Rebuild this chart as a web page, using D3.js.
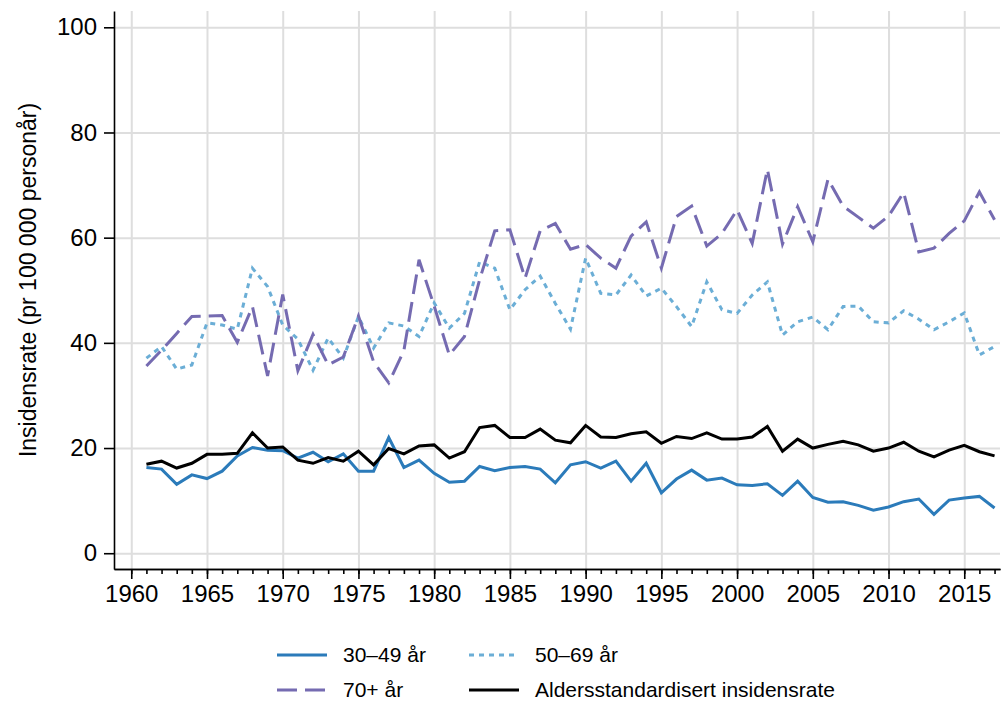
<!DOCTYPE html>
<html>
<head>
<meta charset="utf-8">
<script src="https://cdn.jsdelivr.net/npm/d3@7"></script>
<style>
  body { margin: 0; background: #fff; }
  svg { font-family: "Liberation Sans", Arial, sans-serif; }
  .grid line { stroke: #dedede; stroke-width: 2; }
  .grid path { display: none; }
  .axis path, .axis line { stroke: #000; stroke-width: 1.6; }
  .axis text { font-family: "Liberation Sans", Arial, sans-serif; font-size: 24px; fill: #000; }
</style>
</head>
<body>
<svg width="1002" height="701"></svg>
<script>
const years = d3.range(1961, 2018);

const rate3049 = [
  16.3, 16.0, 13.1, 14.9, 14.2, 15.6, 18.5, 20.1, 19.6, 19.5,
  18.1, 19.2, 17.4, 18.9, 15.6, 15.6, 22.0, 16.3, 17.7, 15.2,
  13.5, 13.7, 16.5, 15.7, 16.3, 16.5, 16.0, 13.4, 16.8, 17.4,
  16.2, 17.5, 13.7, 17.1, 11.5, 14.1, 15.8, 13.9, 14.3, 13.0,
  12.9, 13.2, 11.0, 13.7, 10.6, 9.7, 9.8, 9.1, 8.2, 8.8,
  9.8, 10.3, 7.4, 10.1, 10.5, 10.8, 8.6
];

const rate5069 = [
  37.1, 39.3, 35.0, 35.8, 43.8, 43.4, 42.6, 54.2, 50.7, 43.4,
  40.7, 34.8, 40.9, 37.1, 45.0, 39.0, 43.8, 43.2, 41.2, 47.6,
  42.8, 45.6, 55.4, 54.2, 46.3, 50.1, 52.7, 47.5, 42.6, 56.1,
  49.4, 49.1, 52.9, 48.9, 50.4, 46.9, 43.1, 51.6, 46.3, 45.6,
  49.1, 51.6, 41.5, 44.0, 44.9, 42.5, 46.9, 47.0, 44.0, 43.8,
  46.1, 44.5, 42.5, 44.0, 45.7, 37.7, 39.3
];

const rate70 = [
  35.6, 38.6, 41.8, 45.0, 45.1, 45.2, 40.1, 46.9, 33.7, 49.2,
  34.7, 41.6, 35.8, 37.3, 45.1, 36.4, 32.4, 38.5, 55.8, 47.0,
  37.7, 41.2, 52.0, 61.3, 61.5, 52.3, 61.3, 62.7, 57.8, 58.7,
  56.1, 54.2, 60.3, 63.0, 54.2, 64.0, 66.0, 58.4, 60.8, 65.3,
  58.9, 73.0, 58.8, 65.9, 59.2, 71.1, 66.0, 63.9, 61.8, 64.1,
  68.6, 57.3, 58.0, 60.8, 63.2, 68.7, 63.4
];

const ageStd = [
  16.9, 17.5, 16.2, 17.1, 18.8, 18.8, 19.0, 22.9, 20.0, 20.2,
  17.7, 17.1, 18.2, 17.5, 19.4, 16.8, 19.9, 18.9, 20.4, 20.6,
  18.1, 19.3, 23.9, 24.3, 22.0, 22.0, 23.6, 21.5, 21.0, 24.3,
  22.1, 22.0, 22.7, 23.1, 20.9, 22.2, 21.8, 22.9, 21.7, 21.7,
  22.1, 24.1, 19.4, 21.7, 20.0, 20.7, 21.3, 20.6, 19.4, 20.0,
  21.1, 19.4, 18.3, 19.6, 20.5, 19.3, 18.5
];

const yTicks = [0, 20, 40, 60, 80, 100];
const xTicks = d3.range(1960, 2016, 5);

const series = [
  { name: "30–49 år", values: rate3049, color: "#2b7bba", dash: null },
  { name: "50–69 år", values: rate5069, color: "#6baed6", dash: "5,5" },
  { name: "70+ år", values: rate70, color: "#756bb1", dash: "20,8" },
  { name: "Aldersstandardisert insidensrate", values: ageStd, color: "#000000", dash: null }
];

const pLeft = 114, pRight = 1000, pTop = 11, pBottom = 569;

const svg = d3.select("svg");

const x = d3.scaleLinear().domain([1958.86, 2017.36]).range([pLeft, pRight]);
const y = d3.scaleLinear().domain([-3, 103.1]).range([pBottom, pTop]);

// gridlines
svg.append("g")
  .attr("class", "grid")
  .attr("transform", `translate(0, ${pBottom})`)
  .call(d3.axisBottom(x).tickValues(xTicks).tickSize(-(pBottom - pTop)).tickFormat(""));

svg.append("g")
  .attr("class", "grid")
  .attr("transform", `translate(${pLeft}, 0)`)
  .call(d3.axisLeft(y).tickValues(yTicks).tickSize(-(pRight - pLeft)).tickFormat(""));

// lines
const line = vals => d3.line()
  .x((d, i) => x(years[i]))
  .y(d => y(d))(vals);

svg.append("g")
  .selectAll("path")
  .data(series)
  .enter()
  .append("path")
  .attr("d", s => line(s.values))
  .attr("fill", "none")
  .attr("stroke", s => s.color)
  .attr("stroke-width", 3)
  .attr("stroke-dasharray", s => s.dash);

// axes
svg.append("g")
  .attr("class", "axis")
  .attr("transform", `translate(${pLeft}, 0)`)
  .call(d3.axisLeft(y).tickValues(yTicks).tickSize(10).tickSizeOuter(0).tickPadding(7));

svg.append("g")
  .attr("class", "axis")
  .attr("transform", `translate(0, ${pBottom})`)
  .call(d3.axisBottom(x).tickValues(years.concat([1960])).tickSize(5).tickSizeOuter(0).tickFormat(""));

svg.append("g")
  .attr("class", "axis")
  .attr("transform", `translate(0, ${pBottom})`)
  .call(d3.axisBottom(x).tickValues(xTicks).tickSize(10).tickSizeOuter(0).tickPadding(6).tickFormat(d3.format("d")));

// y title
svg.append("text")
  .attr("transform", "rotate(-90)")
  .attr("x", -280)
  .attr("y", 36)
  .attr("text-anchor", "middle")
  .attr("font-size", 23)
  .text("Insidensrate (pr 100 000 personår)");

// legend
const legendPos = [[277, 655], [469, 655], [277, 690], [469, 690]];
const legend = svg.append("g")
  .selectAll("g")
  .data(series)
  .enter()
  .append("g")
  .attr("transform", (s, i) => `translate(${legendPos[i][0]}, ${legendPos[i][1]})`);

legend.append("line")
  .attr("x1", 0).attr("x2", 50)
  .attr("stroke", s => s.color)
  .attr("stroke-width", 3)
  .attr("stroke-dasharray", s => s.dash);

legend.append("text")
  .attr("x", 66)
  .attr("dy", "0.35em")
  .attr("font-size", 21)
  .text(s => s.name);
</script>
</body>
</html>
